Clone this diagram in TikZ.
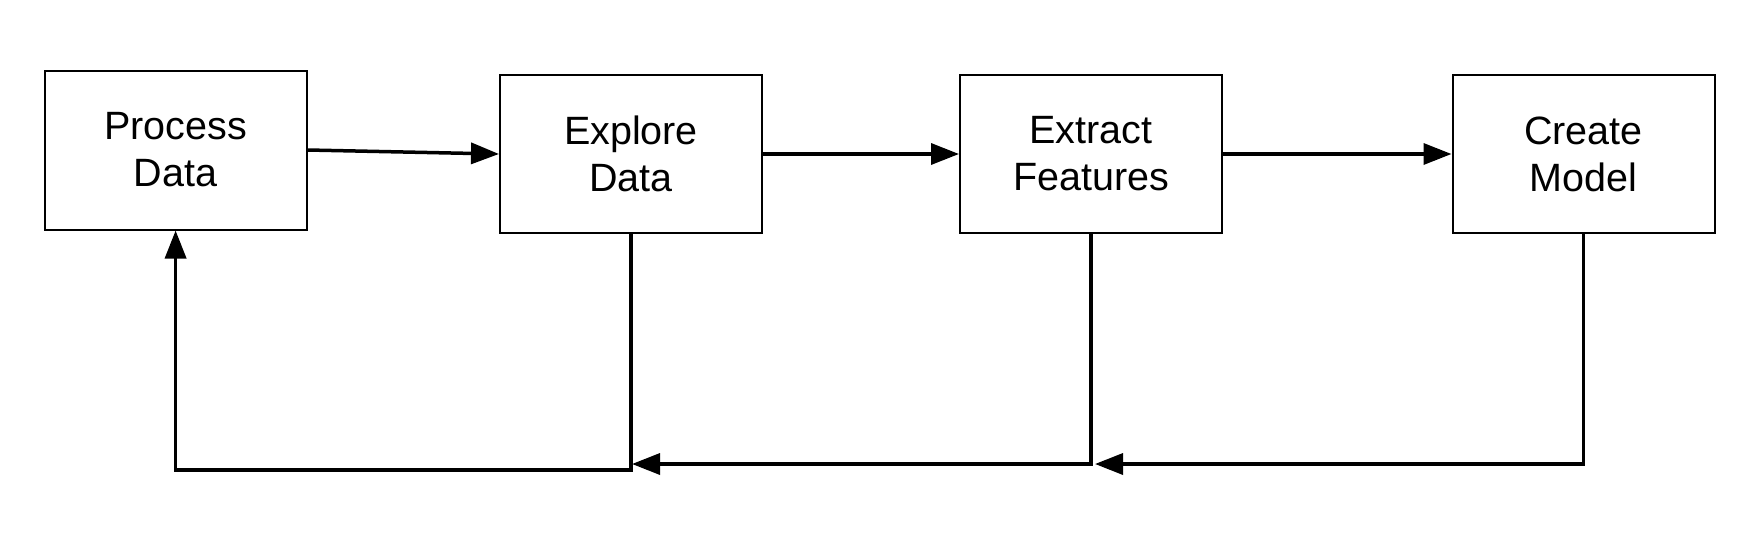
\documentclass[tikz,border=0pt]{standalone}
\usepackage{fontspec}
\setmainfont{Liberation Sans}
\usetikzlibrary{arrows.meta}
\begin{document}
\begin{tikzpicture}[x=1pt,y=-1pt,
  box/.style={draw=black, line width=2pt, minimum width=262pt, minimum height=158pt, inner sep=0pt, align=center, font=\fontsize{39.5}{47}\selectfont},
  arr/.style={line width=3.5pt, -{Triangle[length=28pt,width=21pt]}}]
\useasboundingbox (0,0) rectangle (1754,544);
\node[box, minimum height=159pt] (p) at (175.6,150) {Process\\Data};
\node[box] (e) at (631,154) {Explore\\Data};
\node[box] (x) at (1091,154) {Extract\\Features};
\node[box] (c) at (1583.5,154) {Create\\Model};
\draw[arr] (p.east) -- (e.west);
\draw[arr] (e.east) -- (x.west);
\draw[arr] (x.east) -- (c.west);
\coordinate (k1) at (1095,464);
\coordinate (k2) at (632,464);
\coordinate (k3) at (631,470);
\draw[arr] (c.south) |- (k1);
\draw[arr] (x.south) |- (k2);
\draw[arr] (e.south) -- (k3) -| (p.south);
\end{tikzpicture}
\end{document}
